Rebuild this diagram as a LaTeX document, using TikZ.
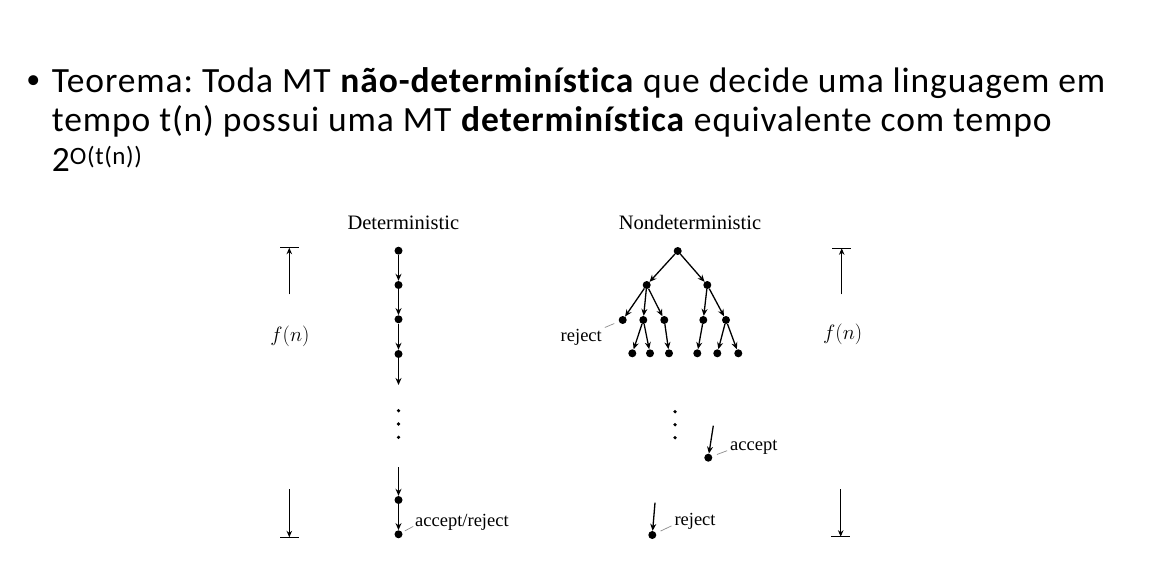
\documentclass[tikz,border=0pt]{standalone}
\usepackage{fontspec}
\setmainfont{Carlito}[LetterSpace=2.5, Ligatures=NoCommon]
\newfontfamily\figserif{Liberation Serif}
\usetikzlibrary{arrows.meta}
\definecolor{inkBlack}{RGB}{0, 0, 0}
\definecolor{leadGray}{RGB}{140, 140, 140}
\frenchspacing

\tikzset{
    thmText/.style={anchor=base west, inner sep=0pt, text=inkBlack, font=\fontsize{35.5}{40}\selectfont},
    figLabel/.style={inner sep=1pt, text=inkBlack, font=\figserif\fontsize{18.5}{20}\selectfont},
    figTitle/.style={anchor=base, inner sep=0pt, text=inkBlack, font=\figserif\fontsize{20.5}{24}\selectfont},
    stateDot/.style={circle, fill=inkBlack, inner sep=0pt, minimum size=8pt},
    moveArrow/.style={-{Stealth[length=7pt,width=6pt]}, line width=1.3pt, draw=inkBlack},
    boundArrow/.style={-{Stealth[length=6.5pt,width=5.5pt]}, line width=1pt, draw=inkBlack},
    boundBar/.style={line width=1.1pt, draw=inkBlack},
    leadLine/.style={draw=leadGray, line width=0.7pt}
}

\begin{document}
\begin{tikzpicture}[x=1pt, y=-1pt]
    \useasboundingbox (0,0) rectangle (1164,564);

    \node[anchor=center, inner sep=0pt, font=\fontsize{28}{32}\selectfont] (bullet) at (33.3,81.7) {•};
    \node[thmText] (line1) at (51.7,92.7) {Teorema: Toda MT \textbf{não-determinística} que decide uma linguagem em};
    \node[thmText] (line2) at (51.7,131.7) {tempo t(n) possui uma MT \textbf{determinística} equivalente com tempo};
    \node[thmText] (line3) at (51.7,171.7) {2\raisebox{7.4pt}{\fontsize{25}{28}\selectfont O(t(n))}};

    \node[figTitle] (detTitle) at (403.3,229.5) {Deterministic};
    \node[figTitle] (ndetTitle) at (690,229.5) {Nondeterministic};

    \coordinate (fTopL) at (289.3,247.7);
    \coordinate (fTailL) at (289.3,294.3);
    \coordinate (fStartL) at (289.3,489.3);
    \coordinate (fBotL) at (289.3,537.3);
    \coordinate (fTopR) at (841.7,248.3);
    \coordinate (fTailR) at (841.7,294.3);
    \coordinate (fStartR) at (840.7,489.3);
    \coordinate (fBotR) at (840.7,536.7);
    \node[figLabel, font=\fontsize{20}{22}\selectfont] (fnL) at (290,336.7) {$f(n)$};
    \node[figLabel, font=\fontsize{20}{22}\selectfont] (fnR) at (842.7,334.3) {$f(n)$};
    \draw[boundBar] ([xshift=-9.3pt]fTopL) -- ([xshift=9.3pt]fTopL);
    \draw[boundBar] ([xshift=-9.3pt]fBotL) -- ([xshift=9.3pt]fBotL);
    \draw[boundBar] ([xshift=-9.3pt]fTopR) -- ([xshift=9.3pt]fTopR);
    \draw[boundBar] ([xshift=-9.3pt]fBotR) -- ([xshift=9.3pt]fBotR);
    \draw[boundArrow] (fTailL) -- (fTopL);
    \draw[boundArrow] (fStartL) -- (fBotL);
    \draw[boundArrow] (fTailR) -- (fTopR);
    \draw[boundArrow] (fStartR) -- (fBotR);

    \node[stateDot] (d1) at (398.5,250.7) {};
    \node[stateDot] (d2) at (398.5,285) {};
    \node[stateDot] (d3) at (398.5,319.3) {};
    \node[stateDot] (d4) at (398.5,354) {};
    \coordinate (dEnd) at (398.5,385);
    \coordinate (dResume) at (398.5,467);
    \node[stateDot] (d5) at (398.5,500) {};
    \node[stateDot] (d6) at (398.5,534.3) {};
    \draw[moveArrow] (d1) -- (d2);
    \draw[moveArrow] (d2) -- (d3);
    \draw[moveArrow] (d3) -- (d4);
    \draw[moveArrow] (d4) -- (dEnd);
    \draw[moveArrow] (dResume) -- (d5);
    \draw[moveArrow] (d5) -- (d6);
    \foreach \y in {410.7,424,437.3}
        \fill[inkBlack] (398.5,\y) circle (1.8pt);
    \node[figLabel, anchor=base west] (detRes) at (414,526) {accept/reject};
    \draw[leadLine, shorten <=3pt, shorten >=1pt] (d6) -- (detRes.base west);

    \node[stateDot] (root) at (677.7,251) {};
    \node[stateDot] (nA) at (646.7,285) {};
    \node[stateDot] (nB) at (707.3,285) {};
    \node[stateDot] (nA1) at (622.7,320) {};
    \node[stateDot] (nA2) at (643.3,320) {};
    \node[stateDot] (nA3) at (664.3,320) {};
    \node[stateDot] (nB1) at (703.3,320) {};
    \node[stateDot] (nB2) at (726,320) {};
    \node[stateDot] (nA21) at (632.3,353.3) {};
    \node[stateDot] (nA22) at (650,353.3) {};
    \node[stateDot] (nA31) at (669,353.3) {};
    \node[stateDot] (nB11) at (697.3,353.3) {};
    \node[stateDot] (nB21) at (717.3,353.3) {};
    \node[stateDot] (nB22) at (738.3,353.3) {};
    \foreach \a/\b in {root/nA, root/nB, nA/nA1, nA/nA2, nA/nA3, nB/nB1, nB/nB2,
                       nA2/nA21, nA2/nA22, nA3/nA31, nB1/nB11, nB2/nB21, nB2/nB22}
        \draw[moveArrow] (\a) -- (\b);
    \node[figLabel, anchor=base east] (rejTree) at (603,341.7) {reject};
    \draw[leadLine, shorten <=5pt, shorten >=2pt] (nA1) -- (rejTree.north east);

    \foreach \y in {411.7,424.7,437.7}
        \fill[inkBlack] (675,\y) circle (1.8pt);
    \coordinate (accStart) at (713.3,425.7);
    \node[stateDot] (acc) at (708.3,457.7) {};
    \draw[moveArrow] (accStart) -- (acc);
    \node[figLabel, anchor=base west] (accLbl) at (729,450) {accept};
    \draw[leadLine, shorten <=5pt, shorten >=2pt] (acc) -- (accLbl.base west);

    \coordinate (rejStart) at (655,502.7);
    \node[stateDot] (rej) at (652.3,535) {};
    \draw[moveArrow] (rejStart) -- (rej);
    \node[figLabel, anchor=base west] (rejLbl) at (673.3,525) {reject};
    \draw[leadLine, shorten <=5pt, shorten >=2pt] (rej) -- (rejLbl.base west);
\end{tikzpicture}
\end{document}
